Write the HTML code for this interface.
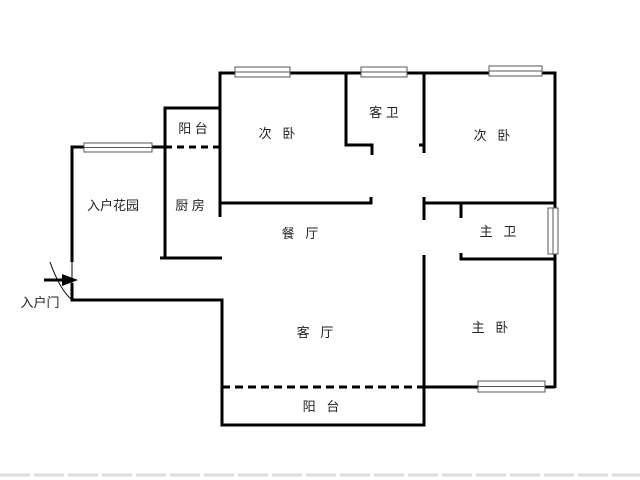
<!DOCTYPE html>
<html><head><meta charset="utf-8"><style>
body{margin:0;background:#fff}
svg{display:block}
text{font-family:"Liberation Sans","Noto Sans CJK SC",sans-serif;font-size:13px;fill:#222;text-anchor:middle}
</style></head><body>
<svg width="640" height="480" viewBox="0 0 640 480">
<g stroke="#000" stroke-width="3" fill="none">
<path d="M72 260V147H165"/>
<path d="M165 258V108H220"/>
<path d="M160 258H222"/>
<path d="M220 217V73H555V388"/>
<path d="M220 203H371V197"/>
<path d="M346 73V145H372V155"/>
<path d="M424 73V153M419 145H424"/>
<path d="M424 220V197V203H555"/>
<path d="M461 203V218"/>
<path d="M461 253V259H555"/>
<path d="M424 255V388"/>
<path d="M72 258V262"/>
<path d="M72 283V300H222V425H424V387H555"/>
<path d="M222 387H424" stroke-dasharray="8,5"/>
<path d="M165 147H220" stroke-dasharray="7,5"/>
</g>
<g fill="#fff" stroke="#555" stroke-width="1">
<rect x="84" y="143" width="68" height="9"/><line x1="84" y1="147.5" x2="152" y2="147.5"/>
<rect x="235" y="67" width="55" height="10"/><line x1="235" y1="72" x2="290" y2="72"/>
<rect x="361" y="67" width="46" height="10"/><line x1="361" y1="72" x2="407" y2="72"/>
<rect x="489" y="66" width="53" height="10"/><line x1="489" y1="71" x2="542" y2="71"/>
<rect x="548" y="208" width="10" height="46"/><line x1="553" y1="208" x2="553" y2="254"/>
<rect x="478" y="381" width="67" height="11"/><line x1="478" y1="386.5" x2="545" y2="386.5"/>
</g>
<path d="M72 262 L72 300 M50 262 Q60 290 72 300" stroke="#000" stroke-width="1" fill="none"/>
<path d="M44 280H66" stroke="#000" stroke-width="3"/>
<path d="M62 274L78 280L62 286Z" fill="#000"/>
<line x1="0" y1="475" x2="640" y2="475" stroke="#ddd" stroke-width="3" stroke-dasharray="30,4"/>
<text x="193" y="133">阳 台</text>
<text x="277" y="138">次 &#160; 卧</text>
<text x="384" y="117">客 卫</text>
<text x="492" y="140">次 &#160; 卧</text>
<text x="113" y="210">入户花园</text>
<text x="190" y="210">厨 房</text>
<text x="300" y="238">餐 &#160; 厅</text>
<text x="498" y="236">主 &#160; 卫</text>
<text x="315" y="337">客 &#160; 厅</text>
<text x="490" y="332">主 &#160; 卧</text>
<text x="321" y="411">阳 &#160; 台</text>
<text x="40" y="307">入户门</text>
</svg>
</body></html>
